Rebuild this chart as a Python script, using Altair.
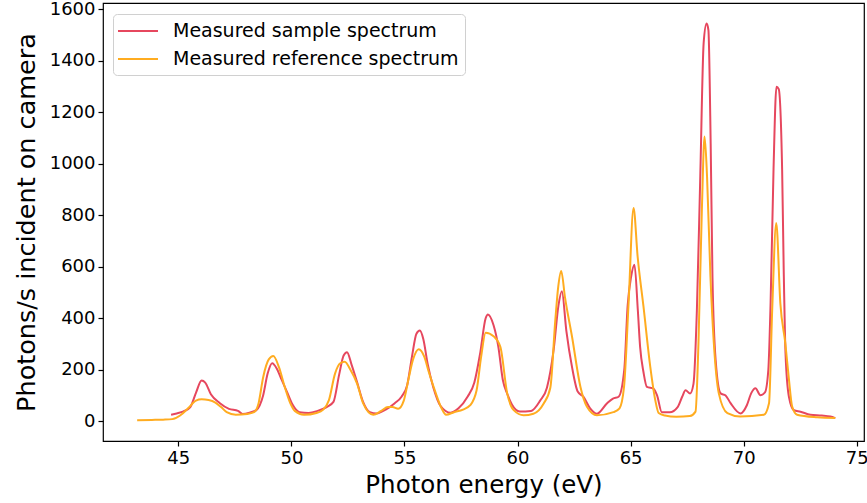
import altair as alt
import pandas as pd

# Measured sample spectrum (red)
sample_energy = [44.68, 44.93, 45.23, 45.53, 45.78, 46.03, 46.19, 46.44, 46.84, 47.24, 47.64, 47.84,
                 48.15, 48.45, 48.75, 48.95, 49.15, 49.35, 49.55, 49.8, 50.05, 50.36, 50.76, 51.16,
                 51.56, 51.86, 52.11, 52.31, 52.46, 52.66, 52.91, 53.17, 53.47, 53.77, 54.17, 54.57,
                 54.87, 55.12, 55.33, 55.53, 55.68, 55.83, 56.03, 56.28, 56.59, 57.04, 57.39, 57.79,
                 58.09, 58.34, 58.59, 58.69, 58.94, 59.15, 59.35, 59.55, 59.75, 60.1, 60.6, 61.0,
                 61.3, 61.6, 61.81, 61.96, 62.16, 62.41, 62.66, 62.91, 63.21, 63.51, 63.96, 64.22,
                 64.47, 64.72, 64.87, 65.02, 65.17, 65.32, 65.42, 65.57, 65.72, 66.02, 66.17, 66.38,
                 66.73, 67.08, 67.28, 67.43, 67.63, 67.78, 67.93, 68.08, 68.23, 68.36, 68.44, 68.54,
                 68.62, 68.76, 68.98, 69.2, 69.42, 69.86, 70.14, 70.34, 70.52, 70.74, 70.94, 71.09,
                 71.19, 71.32, 71.45, 71.55, 71.7, 71.77, 71.85, 72.0, 72.22, 72.51, 72.95, 73.45,
                 73.83, 74.05]
sample_counts = [25, 30, 38, 55, 110, 158, 150, 105, 70, 48, 40, 28,
                 33, 43, 100, 185, 225, 205, 165, 115, 65, 35, 32, 40,
                 55, 75, 180, 255, 268, 220, 150, 75, 35, 30, 45, 70,
                 95, 140, 250, 340, 352, 320, 220, 130, 60, 33, 50, 95,
                 150, 260, 400, 415, 373, 290, 160, 105, 65, 38, 40, 80,
                 130, 280, 450, 505, 350, 210, 115, 95, 50, 29, 70, 88,
                 95, 200, 450, 560, 608, 430, 289, 190, 133, 126, 100, 35,
                 35, 55, 95, 120, 108, 145, 430, 950, 1470, 1545, 1520, 1080,
                 560, 237, 108, 100, 70, 30, 62, 110, 128, 101, 112, 200,
                 460, 980, 1300, 1290, 977, 588, 264, 95, 43, 37, 25, 22,
                 18, 12]

# Measured reference spectrum (orange)
ref_energy = [43.18, 43.83, 44.33, 44.73, 45.08, 45.43, 45.78, 46.03, 46.34, 46.64, 46.89, 47.14,
              47.54, 48.05, 48.35, 48.55, 48.75, 49.0, 49.2, 49.45, 49.7, 49.95, 50.15, 50.56,
              51.11, 51.41, 51.66, 51.93, 52.16, 52.36, 52.61, 52.91, 53.17, 53.62, 53.97, 54.27,
              54.47, 54.72, 54.97, 55.17, 55.38, 55.63, 55.88, 56.08, 56.38, 56.64, 56.84, 57.19,
              57.59, 57.91, 58.19, 58.39, 58.59, 58.94, 59.24, 59.54, 59.83, 60.27, 60.7, 61.15,
              61.45, 61.67, 61.8, 61.93, 62.1, 62.41, 62.78, 63.07, 63.51, 64.24, 64.51, 64.71,
              64.91, 65.13, 65.31, 65.57, 65.87, 66.09, 66.24, 66.52, 67.02, 67.62, 67.87, 68.0,
              68.15, 68.27, 68.38, 68.53, 68.68, 68.9, 69.28, 69.84, 70.89, 71.12, 71.26, 71.44,
              71.62, 71.84, 71.99, 72.14, 72.36, 73.25, 74.05]
ref_counts = [4, 5, 6, 8, 22, 50, 80, 85, 82, 72, 55, 35,
              25, 28, 35, 70, 170, 240, 253, 210, 135, 70, 40, 25,
              32, 45, 82, 185, 225, 231, 200, 145, 70, 25, 40, 55,
              55, 48, 80, 160, 240, 280, 250, 190, 110, 50, 25, 35,
              45, 62, 120, 250, 344, 330, 289, 109, 43, 23, 29, 68,
              130, 393, 523, 584, 480, 328, 134, 56, 23, 35, 50, 134,
              458, 828, 640, 445, 211, 82, 32, 22, 17, 20, 37, 303,
              820, 1106, 950, 561, 303, 108, 31, 18, 25, 70, 432, 770,
              459, 303, 172, 58, 25, 15, 12]

series_names = ["Measured sample spectrum", "Measured reference spectrum"]
series_colors = ["#e6475e", "#ffac20"]
x_ticks = [45, 50, 55, 60, 65, 70, 75]
y_ticks = [0, 200, 400, 600, 800, 1000, 1200, 1400, 1600]

df_sample = pd.DataFrame({"energy": sample_energy, "counts": sample_counts,
                          "series": series_names[0]})
df_ref = pd.DataFrame({"energy": ref_energy, "counts": ref_counts,
                       "series": series_names[1]})

FONT = "DejaVu Sans"

x_enc = alt.X("energy:Q",
              scale=alt.Scale(domain=[41.67, 75.32], nice=False, zero=False),
              axis=alt.Axis(values=x_ticks, title="Photon energy (eV)", grid=False,
                            labelFontSize=18, titleFontSize=24.5, tickSize=5,
                            labelPadding=3, titlePadding=6, format="d"))
y_enc = alt.Y("counts:Q",
              scale=alt.Scale(domain=[-77, 1625], nice=False, zero=False),
              axis=alt.Axis(values=y_ticks, title="Photons/s incident on camera", grid=False,
                            labelFontSize=18, titleFontSize=25.5, tickSize=5,
                            labelPadding=3, titlePadding=10, format="d"))
color_enc = alt.Color("series:N",
                      scale=alt.Scale(domain=series_names, range=series_colors),
                      legend=alt.Legend(title=None, orient="none", legendX=10, legendY=11,
                                        symbolType="M-2,0H2", symbolSize=400,
                                        symbolStrokeWidth=2, labelFontSize=19,
                                        labelFont=FONT, labelColor="black", labelLimit=0,
                                        symbolOffset=8, labelOffset=24,
                                        rowPadding=7, padding=6,
                                        fillColor="white", strokeColor="#d0d0d0",
                                        cornerRadius=4))

line_sample = alt.Chart(df_sample).mark_line(strokeWidth=2, interpolate="monotone").encode(
    x=x_enc, y=y_enc, color=color_enc)
line_ref = alt.Chart(df_ref).mark_line(strokeWidth=2, interpolate="monotone").encode(
    x=x_enc, y=y_enc, color=color_enc)

chart = alt.layer(line_sample, line_ref).properties(
    width=761, height=438,
    padding={"left": 103, "top": 3, "right": 3, "bottom": 62},
    autosize=alt.AutoSizeParams(type="none"),
).configure_view(
    stroke="black", strokeWidth=1.2
).configure_axis(
    domain=False, tickColor="black", labelColor="black", titleColor="black",
    labelFont=FONT, titleFont=FONT, titleFontWeight="normal", tickWidth=1.2
)

chart.save("out.html", embed_options={"renderer": "svg", "actions": False})
